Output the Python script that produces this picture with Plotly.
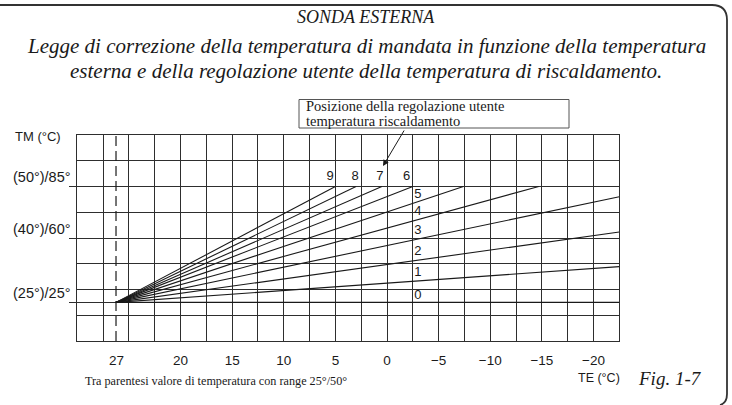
import plotly.graph_objects as go

W, H = 732, 405

# ---- data ----
TE_TICK_VALS = [20, 15, 10, 5, 0, -5, -10, -15, -20]
TE_TICK_TEXT = ["20", "15", "10", "5", "0", "\u22125", "\u221210", "\u221215", "\u221220"]
TE_START_POS = 26.25          # dashed line drawn where "27" is printed
TE_START_LABEL = "27"
TM_LABEL_VALS = [85, 60, 28.75]
TM_LABEL_TEXT = ["(50\u00b0)/85\u00b0", "(40\u00b0)/60\u00b0", "(25\u00b0)/25\u00b0"]
TM_START = 28.75

CURVE_NAMES = ["0", "1", "2", "3", "4", "5", "6", "7", "8", "9"]
CURVE_END_TE = [-22.5, -22.5, -22.5, -22.5, -14.7, -7.4, -2.5, 0.5, 3.0, 5.0]
CURVE_END_TM = [28.75, 46.1, 62.9, 80.0, 85, 85, 85, 85, 85, 85]
LABEL_TE = [-3.0, -3.0, -3.0, -3.0, -3.0, -3.0, -1.9, 0.7, 3.1, 5.5]
LABEL_TM = [31.8, 42.9, 53.3, 63.5, 72.8, 80.9, 89.5, 89.5, 89.5, 89.5]

X_MINOR_GRID = [30, 27.5, 25, 22.5, 17.5, 12.5, 7.5, 2.5, -2.5, -7.5, -12.5, -17.5, -22.5]
Y_MINOR_GRID = [10, 22.5, 35, 47.5, 72.5, 97.5, 110]
Y_MIN, Y_MAX = 10, 110

GRID = "#2e2e2e"
INK = "#1a1a1a"
SANS = "Liberation Sans, Arial, sans-serif"
SERIF = "Liberation Serif, Times New Roman, serif"

def px(x):
    return x / W

def py(y):
    return 1 - y / H

fig = go.Figure()

# dashed start line
fig.add_trace(go.Scatter(x=[TE_START_POS, TE_START_POS], y=[Y_MIN, Y_MAX], mode="lines",
                         line=dict(color=INK, width=1.2, dash="10px,5px"),
                         hoverinfo="skip", showlegend=False))

for name, xe, ye in zip(CURVE_NAMES, CURVE_END_TE, CURVE_END_TM):
    fig.add_trace(go.Scatter(x=[TE_START_POS, xe], y=[TM_START, ye], mode="lines",
                             line=dict(color=INK, width=1.1), name=name,
                             showlegend=False))

fig.add_trace(go.Scatter(x=LABEL_TE, y=LABEL_TM, mode="text", text=CURVE_NAMES,
                         textfont=dict(family=SANS, size=13, color=INK),
                         textposition="middle center", hoverinfo="skip",
                         showlegend=False))

fig.update_layout(
    width=W, height=H, autosize=False,
    margin=dict(l=0, r=0, t=0, b=0),
    paper_bgcolor="white", plot_bgcolor="white",
    xaxis=dict(domain=[77.3 / W, 619.3 / W], range=[30, -22.5],
               tickvals=TE_TICK_VALS, ticktext=TE_TICK_TEXT,
               showgrid=True, gridcolor=GRID, gridwidth=1,
               minor=dict(tickvals=X_MINOR_GRID, showgrid=True, gridcolor=GRID, gridwidth=1, ticks=""),
               ticks="", ticklabelstandoff=7,
               tickfont=dict(family=SANS, size=13.5, color=INK),
               showline=True, mirror=True, linecolor=GRID, linewidth=1,
               zeroline=False, fixedrange=True),
    yaxis=dict(domain=[1 - 341 / H, 1 - 135 / H], range=[Y_MIN, Y_MAX],
               tickvals=TM_LABEL_VALS, ticktext=["", "", ""],
               showgrid=True, gridcolor=GRID, gridwidth=1,
               minor=dict(tickvals=Y_MINOR_GRID, showgrid=True, gridcolor=GRID, gridwidth=1, ticks=""),
               ticks="outside", ticklen=7, tickcolor=GRID, tickwidth=1,
               showline=True, mirror=True, linecolor=GRID, linewidth=1,
               zeroline=False, fixedrange=True),
)

ann = []
# titles
for txt, y, sz in [("SONDA ESTERNA", 17, 18),
                   ("Legge di correzione della temperatura di mandata in funzione della temperatura", 46, 21),
                   ("esterna e della regolazione utente della temperatura di riscaldamento.", 71, 21)]:
    ann.append(dict(text=txt, x=px(366), y=py(y), xref="paper", yref="paper",
                    xanchor="center", yanchor="middle", showarrow=False,
                    font=dict(family=SERIF, size=sz, color=INK, style="italic")))

# y labels
ann.append(dict(text="TM (\u00b0C)", x=px(63), y=py(136), xref="paper", yref="paper",
                xanchor="right", yanchor="middle", showarrow=False,
                font=dict(family=SANS, size=13, color=INK)))
for v, t in zip(TM_LABEL_VALS, TM_LABEL_TEXT):
    ann.append(dict(text=t, x=px(73), y=v, xref="paper", yref="y", yshift=9,
                    xanchor="right", yanchor="middle", showarrow=False,
                    font=dict(family=SANS, size=14.5, color=INK)))
# "27" label
ann.append(dict(text=TE_START_LABEL, x=TE_START_POS, y=py(360), xref="x", yref="paper",
                xanchor="center", yanchor="middle", showarrow=False,
                font=dict(family=SANS, size=13.5, color=INK)))
# box text
ann.append(dict(text="Posizione della regolazione utente", x=px(304), y=py(106), xref="paper", yref="paper",
                xanchor="left", yanchor="middle", showarrow=False,
                font=dict(family=SERIF, size=14.5, color=INK)))
ann.append(dict(text="temperatura riscaldamento", x=px(304), y=py(120.5), xref="paper", yref="paper",
                xanchor="left", yanchor="middle", showarrow=False,
                font=dict(family=SERIF, size=14.5, color=INK)))
# arrow
ann.append(dict(text="", x=px(383), y=py(166), xref="paper", yref="paper",
                ax=22, ay=-37, axref="pixel", ayref="pixel", showarrow=True,
                arrowhead=2, arrowsize=1.2, arrowwidth=1, arrowcolor=INK))
# bottom texts
ann.append(dict(text="Tra parentesi valore di temperatura con range 25\u00b0/50\u00b0", x=px(83), y=py(381),
                xref="paper", yref="paper", xanchor="left", yanchor="middle", showarrow=False,
                font=dict(family=SERIF, size=12.2, color=INK)))
ann.append(dict(text="TE (\u00b0C)", x=px(599), y=py(378), xref="paper", yref="paper",
                xanchor="center", yanchor="middle", showarrow=False,
                font=dict(family=SANS, size=12.5, color=INK)))
ann.append(dict(text="Fig. 1-7", x=px(670), y=py(378), xref="paper", yref="paper",
                xanchor="center", yanchor="middle", showarrow=False,
                font=dict(family=SERIF, size=19, color=INK, style="italic")))
fig.update_layout(annotations=ann)

shapes = [
    dict(type="rect", xref="paper", yref="paper", x0=px(299), x1=px(569), y0=py(99.5), y1=py(128),
         line=dict(color="#555555", width=1), fillcolor="rgba(0,0,0,0)"),
    dict(type="path", xref="paper", yref="paper",
         path=f"M {px(0)},{py(5)} L {px(712)},{py(5)} Q {px(727)},{py(5)} {px(727)},{py(20)} "
              f"L {px(727)},{py(394)} Q {px(727)},{py(403)} {px(720)},{py(405)}",
         line=dict(color="#333333", width=1.8)),
]
fig.update_layout(shapes=shapes)

fig.write_html("out.html", config={"displayModeBar": False},
               post_script="document.body.style.margin='0';document.body.style.overflow='hidden';")
